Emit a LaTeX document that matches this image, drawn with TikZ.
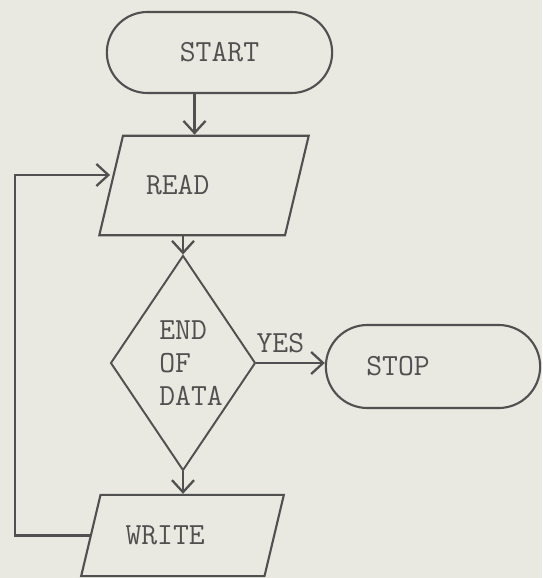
\documentclass[tikz,border=0pt]{standalone}
\usepackage{fontspec}
\usepackage{xcolor}
\usepackage{tikz}
\usetikzlibrary{shapes,shapes.geometric,shapes.misc,arrows.meta,positioning,calc}
\definecolor{paper}{RGB}{233,233,226}
\definecolor{ink}{RGB}{80,80,80}

\begin{document}
\begin{tikzpicture}[
    every node/.style={font=\ttfamily\fontsize{17.5}{19}\selectfont, text=ink},
    term/.style={rounded rectangle, draw=ink, line width=1.2pt},
    io/.style={trapezium, trapezium left angle=76.6, trapezium right angle=103.4, draw=ink, line width=1.2pt, align=left},
    decision/.style={diamond, draw=ink, line width=1.1pt, align=left, inner ysep=0pt, inner xsep=-0.2cm},
    flow/.style={draw=ink, line width=1.3pt, -{Straight Barb[length=2.4mm,width=4.4mm]}}]
    \fill[paper] (0,0) rectangle (10.84,-11.56);
    \useasboundingbox (0,0) rectangle (10.84,-11.56);

    \node [term, minimum width=4.74cm, minimum height=1.62cm] (start) at (4.39,-1.05) {START};
    \node [io, text width=2.32cm, inner xsep=0.46cm, inner ysep=0.8cm] (read) at (4.08,-3.71) {READ};
    \node [decision, minimum width=2.86cm, minimum height=4.3cm] (dec) at (3.66,-7.26) {\hspace*{0.32cm}END\\\hspace*{0.32cm}OF\\\hspace*{0.32cm}DATA};
    \node [term, minimum width=4.52cm, minimum height=1.66cm] (stop) at (8.66,-7.33) {STOP\hspace*{1.4cm}};
    \node [io, text width=2.28cm, inner xsep=0.5cm, inner ysep=0.62cm] (write) at (3.65,-10.71) {WRITE};
    \coordinate (loop) at (0.3,-3.5);

    \draw [flow] ([xshift=-0.5cm]start.south) -- ([xshift=-0.5cm]start.south |- read.north);
    \draw [flow] (read.south -| dec.north) -- (dec.north);
    \draw [flow] (dec.east) -- node [pos=0.35, above=2pt] {YES} (dec.east -| stop.west);
    \draw [flow] (dec.south) -- (dec.south |- write.north);
    \draw [flow] (write.west) -| (loop) -- (loop -| read.west);
\end{tikzpicture}
\end{document}
